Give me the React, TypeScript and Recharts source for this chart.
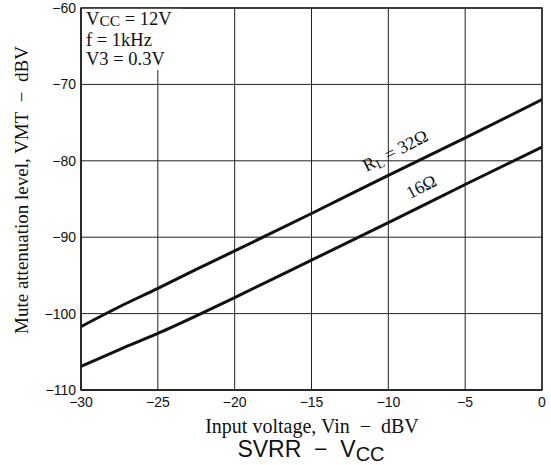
import React from "react";
import { LineChart, Line, XAxis, YAxis, CartesianGrid, ReferenceArea } from "recharts";

const inputVoltage = [-30, -27.5, -25, -22.5, -20, -15, -10, -5, 0];
const rl32 = [-101.7, -99.1, -96.7, -94.2, -91.8, -86.9, -81.9, -77.0, -72.0];
const rl16 = [-106.9, -104.7, -102.6, -100.3, -97.9, -93.0, -88.1, -83.1, -78.2];
const xTicks = [-30, -25, -20, -15, -10, -5, 0];
const yTicks = [-110, -100, -90, -80, -70, -60];

const data = inputVoltage.map((x, i) => ({ x, r32: rl32[i], r16: rl16[i] }));

const fmt = (v: number) => String(v).replace("-", "\u2212");
const serif = "'Liberation Serif', 'Times New Roman', serif";
const sans = "'Liberation Sans', Arial, sans-serif";
const sp = "\u00A0\u00A0";

export default function App() {
  return (
    <div style={{ position: "absolute", left: 0, top: 0, width: 551, height: 465, background: "#fff" }}>
      <LineChart width={551} height={465} data={data} margin={{ top: 8, right: 9, bottom: 45, left: 21 }}>
        <CartesianGrid stroke="#222" strokeWidth={1} />
        <XAxis
          dataKey="x"
          type="number"
          domain={[-30, 0]}
          ticks={xTicks}
          tickFormatter={fmt}
          tickLine={false}
          tickSize={0}
          tickMargin={7}
          height={30}
          axisLine={{ stroke: "#222", strokeWidth: 1.5 }}
          tick={{ fill: "#111", fontSize: 14, fontFamily: sans }}
          allowDataOverflow
        />
        <YAxis
          type="number"
          domain={[-110, -60]}
          ticks={yTicks}
          tickFormatter={fmt}
          tickLine={false}
          tickSize={0}
          tickMargin={5}
          width={60}
          axisLine={{ stroke: "#222", strokeWidth: 1.5 }}
          tick={{ fill: "#111", fontSize: 14, fontFamily: sans }}
          allowDataOverflow
        />
        <ReferenceArea x1={-30} x2={-23.4} y1={-68.1} y2={-60} fill="#fff" fillOpacity={1} stroke="none" ifOverflow="hidden" />
        <ReferenceArea x1={-30} x2={0} y1={-110} y2={-60} fill="none" stroke="#222" strokeWidth={1.5} />
        <Line dataKey="r32" type="monotone" stroke="#111" strokeWidth={3} dot={false} isAnimationActive={false} />
        <Line dataKey="r16" type="monotone" stroke="#111" strokeWidth={3} dot={false} isAnimationActive={false} />
      </LineChart>
      <svg width={551} height={465} style={{ position: "absolute", left: 0, top: 0, pointerEvents: "none" }}>
        <g fontFamily={serif} fontSize={18.5} fill="#111">
          <text x={86} y={25}>
            V<tspan fontSize={15.5} dy={1}>CC</tspan>
            <tspan dy={-1}>{"\u00A0= 12V"}</tspan>
          </text>
          <text x={86} y={45.5}>f = 1kHz</text>
          <text x={86} y={65}>V3 = 0.3V</text>
        </g>
        <g fontFamily={serif} fontSize={18} fill="#111">
          <text x={398} y={156} textAnchor="middle" transform="rotate(-27 398 156)">
            R<tspan fontSize={13} dy={3}>L</tspan>
            <tspan dy={-3}> = 32Ω</tspan>
          </text>
          <text x={424} y={192} textAnchor="middle" transform="rotate(-27 424 192)">16Ω</text>
          <text x={312} y={433} textAnchor="middle" fontSize={20}>{`Input voltage, Vin${sp}−${sp}dBV`}</text>
          <text x={28} y={190} textAnchor="middle" fontSize={19} transform="rotate(-90 28 190)">
            {`Mute attenuation level, VMT${sp}−${sp}dBV`}
          </text>
        </g>
        <text x={311} y={457} textAnchor="middle" fontFamily={sans} fontSize={23} fill="#111">
          {`SVRR${sp}−${sp}V`}<tspan fontSize={20} dy={4}>CC</tspan>
        </text>
      </svg>
    </div>
  );
}
